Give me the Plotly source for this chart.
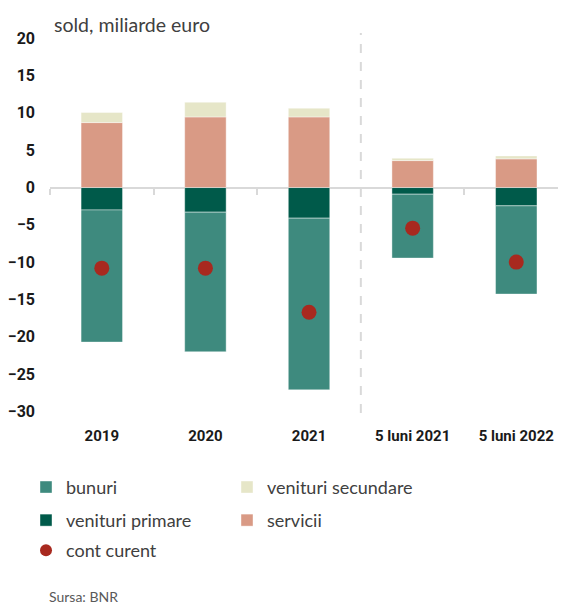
import plotly.graph_objects as go

categories = ["2019", "2020", "2021", "5 luni 2021", "5 luni 2022"]
bunuri = [-17.7, -18.7, -23.0, -8.56, -11.82]
venituri_primare = [-3.0, -3.3, -4.1, -0.89, -2.45]
servicii = [8.7, 9.46, 9.46, 3.61, 3.84]
venituri_secundare = [1.35, 1.97, 1.17, 0.32, 0.40]
cont_curent = [-10.8, -10.8, -16.7, -5.44, -9.99]
y_ticks = [20, 15, 10, 5, 0, -5, -10, -15, -20, -25, -30]

C_BUN = "#3E8A7E"
C_PRI = "#005A4A"
C_SER = "#D99A85"
C_SEC = "#E6E6C8"
C_CC = "#A8291F"

COND = "Roboto, sans-serif"

edge = dict(color="rgba(255,255,255,0.5)", width=0.8)
fig = go.Figure()
fig.add_bar(x=categories, y=venituri_primare, name="venituri primare", marker=dict(color=C_PRI, line=edge), legend="legend2")
fig.add_bar(x=categories, y=bunuri, name="bunuri", marker=dict(color=C_BUN, line=edge), legend="legend", legendrank=1)
fig.add_bar(x=categories, y=servicii, name="servicii", marker=dict(color=C_SER, line=edge), legend="legend2")
fig.add_bar(x=categories, y=venituri_secundare, name="venituri secundare", marker=dict(color=C_SEC, line=edge), legend="legend", legendrank=2)
fig.add_scatter(x=categories, y=cont_curent, name="cont curent", mode="markers",
                marker=dict(color=C_CC, size=15), legend="legend3")
# invisible trace for the boundary tick axis
fig.add_scatter(x=[0], y=[0], xaxis="x2", mode="markers", marker=dict(opacity=0), showlegend=False, hoverinfo="skip")

yr = [-30.2, 20.7]
zero_frac = (0 - yr[0]) / (yr[1] - yr[0])

fig.add_shape(type="line", xref="x", yref="y", x0=2.5, x1=2.5, y0=yr[0], y1=yr[1],
              line=dict(color="#D9D9D9", width=2, dash="dash"), layer="below")

leg_common = dict(orientation="h", xanchor="left", yanchor="top", entrywidth=156, entrywidthmode="pixels",
                  font=dict(family="Lato", size=18, color="#404040"), bgcolor="rgba(0,0,0,0)")
lx = -0.0465

fig.update_layout(
    width=558, height=598,
    margin=dict(l=42, r=0, t=25, b=193, autoexpand=False),
    barmode="relative", bargap=0.6,
    plot_bgcolor="white", paper_bgcolor="white",
    showlegend=True,
    legend=dict(x=lx, y=-0.147, **leg_common),
    legend2=dict(x=lx, y=-0.234, **leg_common),
    legend3=dict(x=lx, y=-0.313, itemsizing="constant", **leg_common),
    xaxis=dict(type="category", range=[-0.5, 4.48], showgrid=False, showline=False, ticks="",
               automargin=False,
               tickfont=dict(family=COND, size=15, color="#1a1a1a", weight="bold"),
               ticklabelstandoff=12),
    xaxis2=dict(overlaying="x", anchor="free", position=zero_frac, range=[-0.5, 4.48],
                showline=True, linecolor="#D9D9D9", linewidth=2, ticks="outside", automargin=False,
                tickvals=[-0.5, 0.5, 1.5, 3.5], ticklen=6, tickwidth=2, tickcolor="#D9D9D9",
                showticklabels=False, showgrid=False, zeroline=False, layer="below traces"),
    yaxis=dict(range=yr, tickvals=y_ticks, showgrid=False, zeroline=False, showline=False,
               automargin=False,
               tickfont=dict(family=COND, size=16, color="#1a1a1a", weight="bold"),
               ticklabelstandoff=14),
    annotations=[
        dict(text="sold, miliarde euro", xref="paper", yref="paper", x=0.003, y=1.0, xanchor="left",
             yanchor="bottom", yshift=-5, showarrow=False, font=dict(family="Lato", size=19.5, color="#404040")),
        dict(text="Sursa: BNR", xref="paper", yref="paper", x=-0.005, y=-0.4818, xanchor="left", yanchor="middle",
             showarrow=False, font=dict(family="Lato", size=14, color="#595959")),
    ],
)

fig.write_html("out.html")
